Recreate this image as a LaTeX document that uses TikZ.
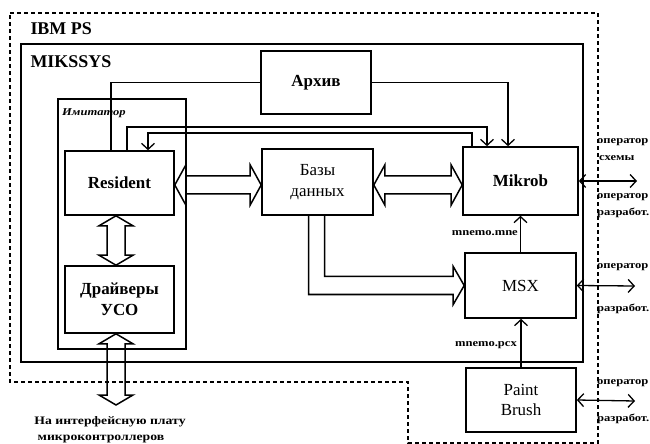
\documentclass[tikz,border=0pt]{standalone}
\usepackage{fontspec}
\setmainfont{Liberation Serif}
\newfontfamily\smallf[FakeStretch=1.2]{Liberation Serif}
\usetikzlibrary{arrows.meta,calc}
\newcommand\fatH[2]{% #1 left tip, #2 right tip
 \draw[fat] let \p1=(#1), \p2=(#2) in
 (\x1,\y1) -- (\x1+11bp,\y1+20bp) -- (\x1+11bp,\y1+9bp) -- (\x2-11bp,\y1+9bp) -- (\x2-11bp,\y1+20bp) -- (\x2,\y1)
 -- (\x2-11bp,\y1-20bp) -- (\x2-11bp,\y1-9bp) -- (\x1+11bp,\y1-9bp) -- (\x1+11bp,\y1-20bp) -- cycle;}
\newcommand\fatV[2]{% #1 top tip, #2 bottom tip
 \draw[fat] let \p1=(#1), \p2=(#2) in
 (\x1,\y1) -- (\x1+17bp,\y1-10bp) -- (\x1+9bp,\y1-10bp) -- (\x1+9bp,\y2+10bp) -- (\x1+17bp,\y2+10bp) -- (\x1,\y2)
 -- (\x1-17bp,\y2+10bp) -- (\x1-9bp,\y2+10bp) -- (\x1-9bp,\y1-10bp) -- (\x1-17bp,\y1-10bp) -- cycle;}
\begin{document}
\begin{tikzpicture}[x=1bp,y=-1bp,
  box/.style={draw,line width=1.6bp,inner sep=0pt,align=center,font=\fontsize{17}{21}\selectfont\bfseries},
  rbox/.style={box,font=\fontsize{17}{21}\selectfont},
  frame/.style={draw,line width=1.2bp,inner sep=0pt},
  fat/.style={line width=1.5bp,line join=miter},
  conn/.style={line width=1.3bp},
  tip/.style={-{Straight Barb[length=6bp,width=13bp,line width=1.3bp]}},
  dtip/.style={{Straight Barb[length=6bp,width=13bp,line width=1.3bp]}-{Straight Barb[length=6bp,width=13bp,line width=1.3bp]}},
  big/.style={font=\fontsize{18}{20}\selectfont\bfseries},
  small/.style={font=\smallf\fontsize{10.5}{12}\selectfont\bfseries,inner sep=0pt},
  ifsmall/.style={font=\smallf\fontsize{11.5}{13}\selectfont\bfseries,inner sep=0pt},
]
\useasboundingbox[fill=white] (0,0) rectangle (650,444);
% IBM PS dashed boundary
\draw[line width=1.2bp,dash pattern=on 4bp off 3bp]
  (10,13) -- (598,13) -- (598,443) -- (408,443) -- (408,382) -- (10,382) -- cycle;
\node[big,anchor=west] (ibm) at (27,29) {IBM PS};
% MIKSSYS box
\node[frame,minimum width=562bp,minimum height=318bp] (mikssys) at (302,203) {};
\node[big,anchor=west] (mikl) at (27,62) {MIKSSYS};
% emulator
\node[frame,minimum width=128bp,minimum height=250bp] (emu) at (122,224) {};
\node[font=\smallf\fontsize{10.5}{12}\selectfont\bfseries\itshape,inner sep=0pt,anchor=west] (emul) at (62,113) {Имитатор};
% boxes
\node[box,minimum width=110bp,minimum height=63bp] (arch) at (316,82.5) {Архив};
\node[box,minimum width=109bp,minimum height=64bp] (res) at (119.5,183) {Resident};
\node[box,minimum width=109bp,minimum height=67bp] (drv) at (119.5,299.5) {Драйверы\\УСО};
\node[rbox,minimum width=111bp,minimum height=66bp] (db) at (317.5,182) {Базы\\данных};
\node[box,minimum width=115bp,minimum height=68bp] (mik) at (520.5,181) {Mikrob};
\node[rbox,minimum width=111bp,minimum height=65bp] (msx) at (520.5,285.5) {MSX};
\node[rbox,minimum width=110bp,minimum height=64bp] (pb) at (521,400) {Paint\\Brush};
% helper coordinates
\coordinate (x116) at (116,0);
\coordinate (y185) at (0,185);
\coordinate (x111) at (111,0);
\coordinate (x508) at (508,0);
\coordinate (a1) at (127,127);
\coordinate (a2) at (487,127);
\coordinate (b1) at (472,133);
\coordinate (b2) at (148,133);
\coordinate (iface) at (116,405);
\coordinate (o1) at (637,181);
\coordinate (o2) at (635,286);
\coordinate (o3) at (635,401);
% fat arrows
\fatH{res.east |- y185}{db.west |- y185}
\fatH{db.east |- y185}{mik.west |- y185}
\fatV{res.south -| x116}{drv.north -| x116}
\fatV{drv.south -| x116}{iface}
\draw[fat] let \p1=(db.south), \p2=(msx.west) in
  (\x1-9bp,\y1) -- (\x1-9bp,\y2-9bp) -- (\x2-11bp,\y2-9bp) -- (\x2-11bp,\y2-19bp) -- (\x2,\y2)
  -- (\x2-11bp,\y2+19bp) -- (\x2-11bp,\y2+9bp) -- (\x1+7bp,\y2+9bp) -- (\x1+7bp,\y1);
% thin connectors
\draw[conn,tip] (arch.east) -| (mik.north -| x508);
\draw[conn] (res.north -| x111) |- (arch.west);
\draw[conn,tip] (res.north -| a1) -- (a1) -- (a2) -- (mik.north -| a2);
\draw[conn,tip] (mik.north -| b1) -- (b1) -- (b2) -- (res.north -| b2);
\draw[conn,tip] (msx.north) -- (mik.south);
\draw[conn,tip] (pb.north) -- (pb.north |- msx.south);
\draw[conn,dtip] (mik.east) -- (o1);
\draw[conn,dtip] (msx.east) -- (o2);
\draw[conn,dtip] (pb.east) -- (o3);
% small labels
\node[small,anchor=east] (lmn) at (518,233) {mnemo.mne};
\node[small,anchor=east] (lpcx) at (517,345) {mnemo.pcx};
\node[small,anchor=west] (l1) at (597,142) {оператор};
\node[small,anchor=west] (l2) at (599,158) {схемы};
\node[small,anchor=west] (l3) at (597,197) {оператор};
\node[small,anchor=west] (l4) at (597,213) {разработ.};
\node[small,anchor=west] (l5) at (597,267) {оператор};
\node[small,anchor=west] (l6) at (597,309) {разработ.};
\node[small,anchor=west] (l7) at (597,383) {оператор};
\node[small,anchor=west] (l8) at (597,419) {разработ.};
\node[ifsmall] (if1) at (110,422) {На интерфейсную плату};
\node[ifsmall] (if2) at (101,439) {микроконтроллеров};
\end{tikzpicture}
\end{document}
